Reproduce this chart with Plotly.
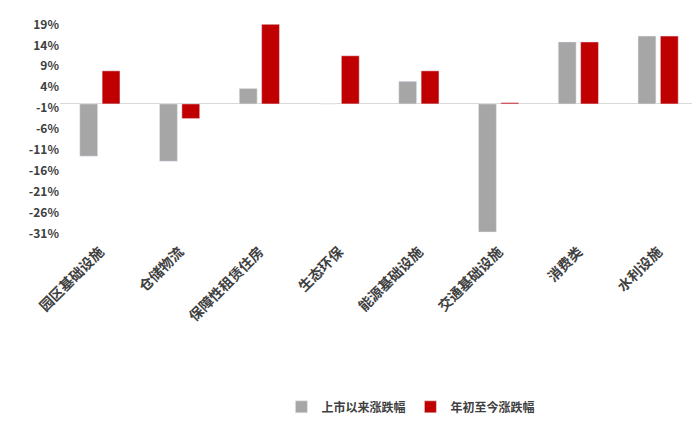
import plotly.graph_objects as go

categories = ["园区基础设施", "仓储物流", "保障性租赁住房", "生态环保", "能源基础设施", "交通基础设施", "消费类", "水利设施"]
since_listing = [-12.5, -13.7, 3.7, 0.0, 5.4, -30.6, 14.8, 16.2]
ytd = [7.9, -3.5, 19.0, 11.5, 7.9, 0.3, 14.8, 16.2]
tick_vals = [19, 14, 9, 4, -1, -6, -11, -16, -21, -26, -31]
tick_text = [f"<b>{v}%</b>" for v in tick_vals]

fig = go.Figure()
fig.add_bar(x=categories, y=since_listing, name="<b>上市以来涨跌幅</b>", marker_color="#A6A6A6")
fig.add_bar(x=categories, y=ytd, name="<b>年初至今涨跌幅</b>", marker_color="#C00000")
fig.update_layout(
    width=700, height=422, plot_bgcolor="white", paper_bgcolor="white",
    barmode="group", bargap=0.44, bargroupgap=0.2,
    margin=dict(l=52, r=10, t=8, b=118),
    font=dict(family="Noto Sans CJK SC", size=12, color="#595959"),
    xaxis=dict(tickangle=-45, showline=False, ticks="",
               tickvals=categories, ticktext=[f"<b>{c}</b>" for c in categories],
               tickfont=dict(size=14, color="#404040")),
    yaxis=dict(range=[-32.5, 21.0], tickvals=tick_vals, ticktext=tick_text, showgrid=False,
               zeroline=True, zerolinecolor="#D9D9D9", zerolinewidth=1,
               tickfont=dict(size=12, color="#404040")),
    legend=dict(orientation="h", x=0.55, xanchor="center", y=-0.68, yanchor="top",
                itemwidth=30, font=dict(size=12, color="#404040")),
)
fig.write_html("out.html")
